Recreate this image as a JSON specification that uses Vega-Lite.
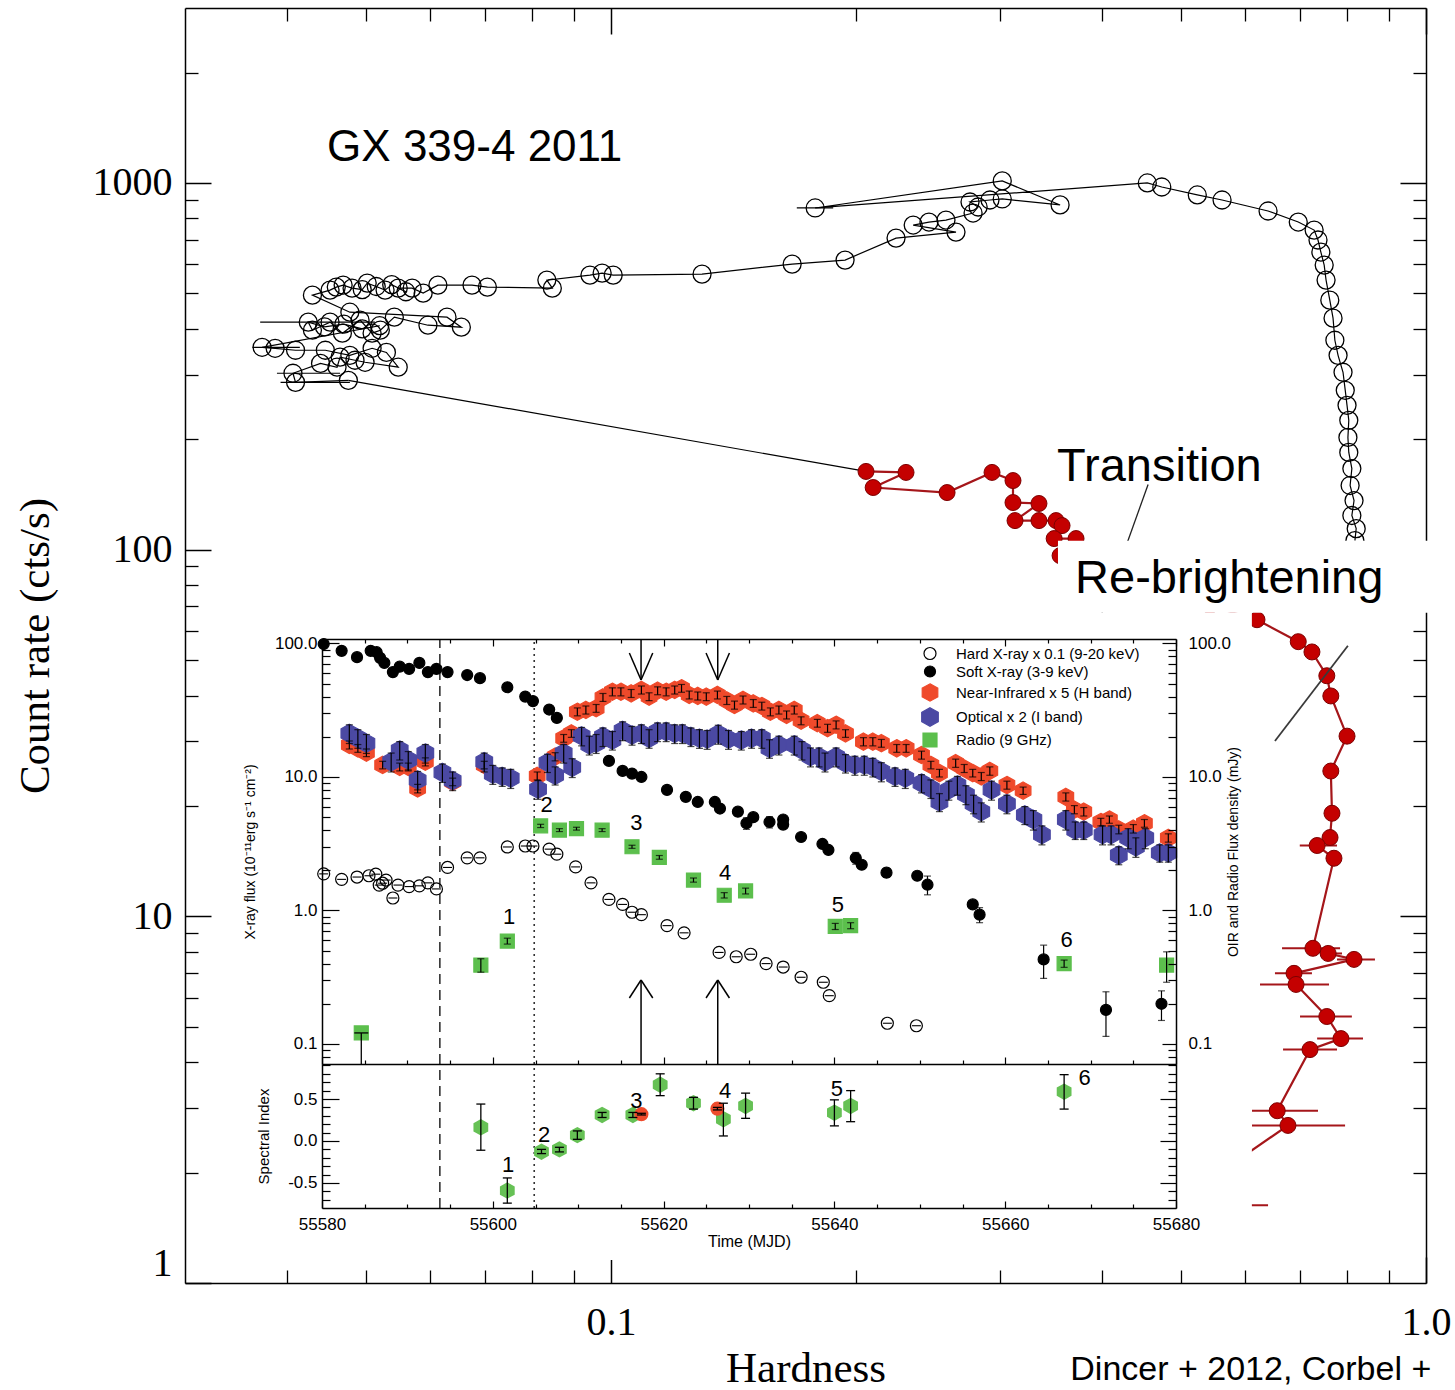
{
  "$schema": "https://vega.github.io/schema/vega-lite/v6.json",
  "width": 1241,
  "height": 1275,
  "autosize": "none",
  "padding": {"left": 185, "top": 8, "right": 29, "bottom": 107},
  "background": "white",
  "config": {
    "view": {"stroke": null},
    "axis": {"grid": false, "domainColor": "black", "tickColor": "black", "labelColor": "black", "titleColor": "black", "titleFontWeight": "normal", "labelFont": "Liberation Sans", "titleFont": "Liberation Sans", "labelOverlap": false},
    "text": {"font": "Liberation Sans", "color": "black"}
  },
  "datasets": {
    "mainBlack": [
      {"h":0.818,"c":105.8},{"h":0.821,"c":114.1},{"h":0.811,"c":123.9},{"h":0.816,"c":136.1},{"h":0.807,"c":149.6},
      {"h":0.811,"c":166.4},{"h":0.804,"c":184.1},{"h":0.802,"c":202.3},{"h":0.804,"c":225.2},{"h":0.800,"c":247.5},
      {"h":0.796,"c":271.9},{"h":0.791,"c":304.6},{"h":0.780,"c":338.8},{"h":0.773,"c":372.4},{"h":0.769,"c":427.8},
      {"h":0.762,"c":479},{"h":0.754,"c":543.3},{"h":0.750,"c":597},{"h":0.743,"c":648},{"h":0.737,"c":698.9},
      {"h":0.729,"c":743.9},{"h":0.697,"c":782.3},{"h":0.640,"c":838.6},{"h":0.562,"c":898.6},{"h":0.524,"c":927.4},
      {"h":0.474,"c":975},{"h":0.455,"c":1000},{"h":0.178,"c":854.6},{"h":0.302,"c":1012.7},{"h":0.3556,"c":871},
      {"h":0.302,"c":904.3},{"h":0.2917,"c":898.6},{"h":0.2757,"c":887.4},{"h":0.2821,"c":859.9},{"h":0.2781,"c":827.9},
      {"h":0.2576,"c":792.2},{"h":0.2455,"c":782.3},{"h":0.2348,"c":767.7},{"h":0.2650,"c":734.6},{"h":0.2237,"c":707.4},
      {"h":0.1937,"c":616.2},{"h":0.1668,"c":600.9},{"h":0.1293,"c":564.1},{"h":0.1006,"c":560.6},{"h":0.0975,"c":567.8},
      {"h":0.0942,"c":560.6},{"h":0.0834,"c":543.3},{"h":0.0847,"c":516.6},{"h":0.0705,"c":519.9},{"h":0.0675,"c":526.5},
      {"h":0.0613,"c":526.5},{"h":0.0588,"c":500.6},{"h":0.0570,"c":516.6},{"h":0.0548,"c":516.6},{"h":0.0560,"c":505},
      {"h":0.0538,"c":528},{"h":0.0528,"c":510.2},{"h":0.0515,"c":522},{"h":0.0502,"c":533.2},{"h":0.0495,"c":512},
      {"h":0.0481,"c":516.6},{"h":0.0469,"c":526.5},{"h":0.0460,"c":520},{"h":0.0452,"c":510.2},{"h":0.0430,"c":494.3},
      {"h":0.0478,"c":444.1},{"h":0.0629,"c":430.5},{"h":0.0655,"c":404.3},{"h":0.0596,"c":409.3},{"h":0.0542,"c":430.5},
      {"h":0.0521,"c":396.7},{"h":0.0509,"c":389.3},{"h":0.0492,"c":422.5},{"h":0.0468,"c":389.3},{"h":0.0452,"c":417.2},
      {"h":0.0430,"c":396.7},{"h":0.0425,"c":417.2},{"h":0.0445,"c":405},{"h":0.0470,"c":412},{"h":0.0495,"c":400},
      {"h":0.0520,"c":408},{"h":0.0373,"c":356.3},{"h":0.0387,"c":354.1},{"h":0.0410,"c":349.7},{"h":0.0446,"c":349.7},
      {"h":0.0478,"c":338.8},{"h":0.0509,"c":354.1},{"h":0.0530,"c":345},{"h":0.0548,"c":314.4},{"h":0.0499,"c":324.3},
      {"h":0.0485,"c":328.5},{"h":0.0465,"c":335},{"h":0.0461,"c":314.4},{"h":0.0440,"c":322},{"h":0.0407,"c":302.7},
      {"h":0.0410,"c":285.9},{"h":0.0476,"c":289.5}
    ],
    "mainBlackErr": [
      {"h1":0.0371,"h2":0.0513,"c":417.2},{"h1":0.0363,"h2":0.0415,"c":356.3},{"h1":0.0389,"h2":0.0465,"c":302.7},
      {"h1":0.0393,"h2":0.0478,"c":285.9},{"h1":0.169,"h2":0.1873,"c":854.6}
    ],
    "mainRed": [
      {"h":0.2055,"c":163.4},{"h":0.2301,"c":162.4},{"h":0.2097,"c":147.7},{"h":0.2584,"c":143.1},{"h":0.2934,"c":162.4},
      {"h":0.3113,"c":154.3},{"h":0.3113,"c":134.4},{"h":0.335,"c":133.6},{"h":0.3131,"c":120},{"h":0.335,"c":120},
      {"h":0.3516,"c":120},{"h":0.3576,"c":116.3},{"h":0.3497,"c":107.2},{"h":0.372,"c":107.2},{"h":0.3556,"c":96.3},
      {"h":0.387,"c":84.9},{"h":0.4585,"c":77.3},{"h":0.543,"c":70.3},{"h":0.6203,"c":64.4},{"h":0.697,"c":56.1},
      {"h":0.7245,"c":52.6},{"h":0.7556,"c":45.3},{"h":0.7642,"c":39.9},{"h":0.800,"c":31.0},{"h":0.7642,"c":24.9},
      {"h":0.7667,"c":19.1},{"h":0.7625,"c":16.4},{"h":0.7352,"c":15.6},{"h":0.771,"c":14.4},{"h":0.7265,"c":8.18},
      {"h":0.7584,"c":7.92},{"h":0.816,"c":7.63},{"h":0.6887,"c":6.99},{"h":0.6927,"c":6.52},{"h":0.7556,"c":5.33},
      {"h":0.7864,"c":4.64},{"h":0.7205,"c":4.33},{"h":0.6568,"c":2.95},{"h":0.677,"c":2.69},{"h":0.551,"c":1.96},
      {"h":0.551,"c":1.63}
    ],
    "mainRedErr": [
      {"h1":0.6658,"h2":0.7844,"c":8.18},{"h1":0.7413,"h2":0.7887,"c":7.92},{"h1":0.7777,"h2":0.8657,"c":7.63},
      {"h1":0.6526,"h2":0.7245,"c":6.99},{"h1":0.6256,"h2":0.7603,"c":6.52},{"h1":0.7005,"h2":0.811,"c":5.33},
      {"h1":0.7352,"h2":0.8369,"c":4.64},{"h1":0.6677,"h2":0.7777,"c":4.33},{"h1":0.6116,"h2":0.737,"c":2.95},
      {"h1":0.6116,"h2":0.7956,"c":2.69},{"h1":0.4717,"h2":0.640,"c":1.63},{"h1":0.70,"h2":0.7777,"c":15.6}
    ],
    "flux": [
      {"s":"hard","t":55580.2,"f":1.88},{"s":"hard","t":55582.3,"f":1.71},{"s":"hard","t":55584.1,"f":1.78},
      {"s":"hard","t":55585.5,"f":1.82},{"s":"hard","t":55586.3,"f":1.87},{"s":"hard","t":55586.7,"f":1.55},
      {"s":"hard","t":55587.1,"f":1.60},{"s":"hard","t":55587.5,"f":1.69},{"s":"hard","t":55588.3,"f":1.24},
      {"s":"hard","t":55588.9,"f":1.55},{"s":"hard","t":55590.2,"f":1.51},{"s":"hard","t":55591.4,"f":1.53},
      {"s":"hard","t":55592.4,"f":1.61},{"s":"hard","t":55593.4,"f":1.45},{"s":"hard","t":55594.7,"f":2.10},
      {"s":"hard","t":55597.0,"f":2.48},{"s":"hard","t":55598.5,"f":2.48},{"s":"hard","t":55601.7,"f":2.99},
      {"s":"hard","t":55603.8,"f":3.04},{"s":"hard","t":55604.7,"f":3.04},{"s":"hard","t":55606.6,"f":2.88},
      {"s":"hard","t":55607.5,"f":2.64},{"s":"hard","t":55609.7,"f":2.12},{"s":"hard","t":55611.5,"f":1.61},
      {"s":"hard","t":55613.6,"f":1.21},{"s":"hard","t":55615.2,"f":1.11},{"s":"hard","t":55616.3,"f":0.97},
      {"s":"hard","t":55617.4,"f":0.93},{"s":"hard","t":55620.4,"f":0.77},{"s":"hard","t":55622.4,"f":0.68},
      {"s":"hard","t":55626.5,"f":0.485},{"s":"hard","t":55628.5,"f":0.45},{"s":"hard","t":55630.2,"f":0.47},
      {"s":"hard","t":55632.0,"f":0.40},{"s":"hard","t":55634.0,"f":0.377},{"s":"hard","t":55636.1,"f":0.316},
      {"s":"hard","t":55638.7,"f":0.29},{"s":"hard","t":55639.4,"f":0.23},{"s":"hard","t":55646.2,"f":0.143},
      {"s":"hard","t":55649.6,"f":0.137},
      {"s":"soft","t":55580.2,"f":99},{"s":"soft","t":55582.3,"f":88},{"s":"soft","t":55584.1,"f":79},
      {"s":"soft","t":55585.7,"f":88},{"s":"soft","t":55586.4,"f":86},{"s":"soft","t":55586.8,"f":78},
      {"s":"soft","t":55587.3,"f":71.5},{"s":"soft","t":55588.3,"f":61},{"s":"soft","t":55589.1,"f":67},
      {"s":"soft","t":55590.2,"f":64.5},{"s":"soft","t":55591.4,"f":71.5},{"s":"soft","t":55592.4,"f":61},
      {"s":"soft","t":55593.4,"f":64.5},{"s":"soft","t":55594.7,"f":61},{"s":"soft","t":55597.0,"f":58},
      {"s":"soft","t":55598.5,"f":55},{"s":"soft","t":55601.7,"f":47},{"s":"soft","t":55603.8,"f":40},
      {"s":"soft","t":55604.7,"f":37},{"s":"soft","t":55606.6,"f":32},{"s":"soft","t":55607.5,"f":27.7},
      {"s":"soft","t":55613.6,"f":13.2},{"s":"soft","t":55615.2,"f":11.1},{"s":"soft","t":55616.3,"f":10.6},
      {"s":"soft","t":55617.4,"f":10.0},{"s":"soft","t":55620.4,"f":8.0},{"s":"soft","t":55622.6,"f":7.1},
      {"s":"soft","t":55624.0,"f":6.5},{"s":"soft","t":55626.0,"f":6.5,"e":0.3},{"s":"soft","t":55626.6,"f":5.8},
      {"s":"soft","t":55628.7,"f":5.5,"e":0.4},{"s":"soft","t":55629.7,"f":4.5,"e":0.45},{"s":"soft","t":55630.5,"f":5.0},
      {"s":"soft","t":55632.4,"f":4.6,"e":0.45},{"s":"soft","t":55634.0,"f":4.8,"e":0.3},{"s":"soft","t":55634.0,"f":4.4},
      {"s":"soft","t":55636.1,"f":3.55},{"s":"soft","t":55638.6,"f":3.15,"e":0.2},{"s":"soft","t":55639.3,"f":2.84},
      {"s":"soft","t":55642.5,"f":2.47,"e":0.25},{"s":"soft","t":55643.2,"f":2.2},{"s":"soft","t":55646.1,"f":1.92,"e":0.15},
      {"s":"soft","t":55649.7,"f":1.82},{"s":"soft","t":55650.9,"f":1.56,"e":0.25},{"s":"soft","t":55656.2,"f":1.11},
      {"s":"soft","t":55657.0,"f":0.93,"e":0.12},{"s":"soft","t":55664.5,"f":0.43,"e":0.12},
      {"s":"soft","t":55671.8,"f":0.18,"e":0.066},{"s":"soft","t":55678.3,"f":0.20,"e":0.05},
      {"s":"nir","t":55583.2,"f":17.4,"e":1.2},{"s":"nir","t":55584.2,"f":16.4,"e":1.1},{"s":"nir","t":55585.2,"f":15.2,"e":1.0},
      {"s":"nir","t":55587.1,"f":12.3,"e":0.8},{"s":"nir","t":55589.1,"f":11.9,"e":0.8},{"s":"nir","t":55590.1,"f":11.9,"e":0.8},
      {"s":"nir","t":55591.2,"f":8.2,"e":0.6},{"s":"nir","t":55592.1,"f":13.0,"e":0.9},{"s":"nir","t":55595.3,"f":9.2,"e":0.6},
      {"s":"nir","t":55599.0,"f":12.3,"e":0.8},{"s":"nir","t":55605.2,"f":10.2,"e":0.7},{"s":"nir","t":55607.3,"f":14.2,"e":1.0},
      {"s":"nir","t":55608.3,"f":19.5,"e":1.3},{"s":"nir","t":55609.2,"f":21.2,"e":1.4},{"s":"nir","t":55609.9,"f":30.8,"e":2.1},
      {"s":"nir","t":55610.9,"f":31.8,"e":2.2},{"s":"nir","t":55612.1,"f":32.7,"e":2.2},{"s":"nir","t":55612.9,"f":39.5,"e":2.7},
      {"s":"nir","t":55614.0,"f":43.5,"e":3.0},{"s":"nir","t":55615.0,"f":43.5,"e":3.0},{"s":"nir","t":55616.2,"f":42.3,"e":2.9},
      {"s":"nir","t":55617.4,"f":44.9,"e":3.1},{"s":"nir","t":55618.3,"f":40.0,"e":2.7},{"s":"nir","t":55619.3,"f":44.3,"e":3.0},
      {"s":"nir","t":55620.3,"f":43.5,"e":3.0},{"s":"nir","t":55621.3,"f":44.9,"e":3.1},{"s":"nir","t":55622.1,"f":46.2,"e":3.1},
      {"s":"nir","t":55623.0,"f":41.2,"e":2.8},{"s":"nir","t":55624.0,"f":40.5,"e":2.8},{"s":"nir","t":55625.0,"f":40.0,"e":2.7},
      {"s":"nir","t":55626.3,"f":41.2,"e":2.8},{"s":"nir","t":55627.4,"f":37.5,"e":2.6},{"s":"nir","t":55628.3,"f":34.6,"e":2.4},
      {"s":"nir","t":55629.3,"f":37.8,"e":2.6},{"s":"nir","t":55630.5,"f":35.6,"e":2.4},{"s":"nir","t":55631.5,"f":34.0,"e":2.3},
      {"s":"nir","t":55632.5,"f":30.8,"e":2.1},{"s":"nir","t":55633.5,"f":31.8,"e":2.2},{"s":"nir","t":55634.4,"f":29.2,"e":2.0},
      {"s":"nir","t":55635.3,"f":31.8,"e":2.2},{"s":"nir","t":55636.1,"f":26.4,"e":1.8},{"s":"nir","t":55638.0,"f":25.3,"e":1.7},
      {"s":"nir","t":55639.2,"f":23.2,"e":1.6},{"s":"nir","t":55640.2,"f":24.6,"e":1.7},{"s":"nir","t":55641.3,"f":21.2,"e":1.4},
      {"s":"nir","t":55643.4,"f":18.4,"e":1.3},{"s":"nir","t":55644.5,"f":18.4,"e":1.3},{"s":"nir","t":55645.5,"f":17.9,"e":1.2},
      {"s":"nir","t":55647.3,"f":16.4,"e":1.1},{"s":"nir","t":55648.4,"f":16.4,"e":1.1},{"s":"nir","t":55650.2,"f":14.6,"e":1.0},
      {"s":"nir","t":55651.3,"f":12.3,"e":0.8},{"s":"nir","t":55652.3,"f":10.7,"e":0.7},{"s":"nir","t":55654.2,"f":12.7,"e":0.9},
      {"s":"nir","t":55655.2,"f":11.6,"e":0.8},{"s":"nir","t":55656.2,"f":10.7,"e":0.7},{"s":"nir","t":55657.2,"f":10.1,"e":0.7},
      {"s":"nir","t":55658.2,"f":11.1,"e":0.8},{"s":"nir","t":55660.2,"f":8.7,"e":0.6},{"s":"nir","t":55662.1,"f":7.9,"e":0.5},
      {"s":"nir","t":55667.1,"f":7.1,"e":0.5},{"s":"nir","t":55668.1,"f":5.7,"e":0.4},{"s":"nir","t":55669.2,"f":5.5,"e":0.4},
      {"s":"nir","t":55671.2,"f":4.6,"e":0.3},{"s":"nir","t":55672.2,"f":4.8,"e":0.3},{"s":"nir","t":55673.3,"f":4.05,"e":0.3},
      {"s":"nir","t":55675.0,"f":4.1,"e":0.3},{"s":"nir","t":55676.3,"f":4.5,"e":0.3},{"s":"nir","t":55679.1,"f":3.5,"e":0.25},
      {"s":"opt","t":55583.2,"f":21.2,"e":3.4},{"s":"opt","t":55584.2,"f":19.5,"e":3.1},{"s":"opt","t":55585.2,"f":17.9,"e":2.9},
      {"s":"opt","t":55588.1,"f":13.0,"e":2.1},{"s":"opt","t":55589.1,"f":15.9,"e":2.5},{"s":"opt","t":55590.1,"f":13.4,"e":2.1},
      {"s":"opt","t":55591.2,"f":9.5,"e":1.5},{"s":"opt","t":55592.1,"f":15.1,"e":2.4},{"s":"opt","t":55594.1,"f":10.8,"e":1.7},
      {"s":"opt","t":55595.3,"f":9.4,"e":1.5},{"s":"opt","t":55599.0,"f":13.0,"e":2.1},{"s":"opt","t":55600.0,"f":10.5,"e":1.7},
      {"s":"opt","t":55601.1,"f":10.1,"e":1.6},{"s":"opt","t":55602.1,"f":9.8,"e":1.6},{"s":"opt","t":55605.3,"f":8.1,"e":1.3},
      {"s":"opt","t":55606.4,"f":12.8,"e":2.0},{"s":"opt","t":55607.3,"f":10.3,"e":1.6},{"s":"opt","t":55608.3,"f":15.1,"e":2.4},
      {"s":"opt","t":55609.3,"f":11.8,"e":1.9},{"s":"opt","t":55610.4,"f":20.3,"e":3.2},{"s":"opt","t":55611.3,"f":17.4,"e":2.8},
      {"s":"opt","t":55612.1,"f":17.9,"e":2.9},{"s":"opt","t":55612.9,"f":20.1,"e":3.2},{"s":"opt","t":55614.0,"f":18.9,"e":3.0},
      {"s":"opt","t":55615.2,"f":22.3,"e":3.6},{"s":"opt","t":55616.3,"f":20.6,"e":3.3},{"s":"opt","t":55617.4,"f":21.2,"e":3.4},
      {"s":"opt","t":55618.3,"f":19.5,"e":3.1},{"s":"opt","t":55619.3,"f":21.9,"e":3.5},{"s":"opt","t":55620.3,"f":21.9,"e":3.5},
      {"s":"opt","t":55621.3,"f":21.2,"e":3.4},{"s":"opt","t":55622.2,"f":21.2,"e":3.4},{"s":"opt","t":55623.2,"f":20.1,"e":3.2},
      {"s":"opt","t":55624.2,"f":19.5,"e":3.1},{"s":"opt","t":55625.1,"f":19.2,"e":3.1},{"s":"opt","t":55626.4,"f":21.0,"e":3.4},
      {"s":"opt","t":55627.6,"f":19.2,"e":3.1},{"s":"opt","t":55629.1,"f":18.9,"e":3.0},{"s":"opt","t":55630.3,"f":19.5,"e":3.1},
      {"s":"opt","t":55631.5,"f":19.5,"e":3.1},{"s":"opt","t":55632.4,"f":16.4,"e":2.6},{"s":"opt","t":55633.5,"f":17.4,"e":2.8},
      {"s":"opt","t":55635.3,"f":17.4,"e":2.8},{"s":"opt","t":55636.2,"f":15.9,"e":2.5},{"s":"opt","t":55637.2,"f":14.2,"e":2.3},
      {"s":"opt","t":55638.2,"f":14.2,"e":2.3},{"s":"opt","t":55638.9,"f":13.0,"e":2.1},{"s":"opt","t":55640.2,"f":14.2,"e":2.3},
      {"s":"opt","t":55641.3,"f":12.7,"e":2.0},{"s":"opt","t":55642.4,"f":12.3,"e":2.0},{"s":"opt","t":55643.5,"f":12.3,"e":2.0},
      {"s":"opt","t":55644.5,"f":11.9,"e":1.9},{"s":"opt","t":55645.5,"f":11.0,"e":1.8},{"s":"opt","t":55647.1,"f":10.1,"e":1.6},
      {"s":"opt","t":55648.3,"f":9.8,"e":1.6},{"s":"opt","t":55650.2,"f":9.0,"e":1.4},{"s":"opt","t":55651.3,"f":8.2,"e":1.3},
      {"s":"opt","t":55652.3,"f":6.5,"e":1.0},{"s":"opt","t":55653.4,"f":8.0,"e":1.3},{"s":"opt","t":55654.4,"f":8.7,"e":1.4},
      {"s":"opt","t":55655.4,"f":7.4,"e":1.2},{"s":"opt","t":55656.3,"f":6.3,"e":1.0},{"s":"opt","t":55657.2,"f":5.5,"e":0.9},
      {"s":"opt","t":55658.4,"f":8.0,"e":1.3},{"s":"opt","t":55660.2,"f":6.3,"e":1.0},{"s":"opt","t":55662.3,"f":5.2,"e":0.8},
      {"s":"opt","t":55663.3,"f":4.8,"e":0.8},{"s":"opt","t":55664.3,"f":3.7,"e":0.6},{"s":"opt","t":55667.1,"f":4.8,"e":0.8},
      {"s":"opt","t":55668.2,"f":4.0,"e":0.6},{"s":"opt","t":55669.2,"f":4.0,"e":0.6},{"s":"opt","t":55671.4,"f":3.7,"e":0.6},
      {"s":"opt","t":55672.4,"f":3.7,"e":0.6},{"s":"opt","t":55673.3,"f":2.6,"e":0.4},{"s":"opt","t":55674.4,"f":3.5,"e":0.6},
      {"s":"opt","t":55675.3,"f":3.0,"e":0.5},{"s":"opt","t":55676.4,"f":3.5,"e":0.6},{"s":"opt","t":55678.1,"f":2.7,"e":0.4},
      {"s":"opt","t":55679.1,"f":2.7,"e":0.4},
      {"s":"radio","t":55584.6,"f":0.121},{"s":"radio","t":55598.6,"f":0.39,"e":0.045},{"s":"radio","t":55601.7,"f":0.59,"e":0.03},
      {"s":"radio","t":55605.6,"f":4.3,"e":0.12},{"s":"radio","t":55607.8,"f":4.0,"e":0.1},{"s":"radio","t":55609.8,"f":4.1,"e":0.1},
      {"s":"radio","t":55612.8,"f":4.0,"e":0.1},{"s":"radio","t":55616.3,"f":3.0,"e":0.08},{"s":"radio","t":55619.5,"f":2.5,"e":0.08},
      {"s":"radio","t":55623.5,"f":1.69,"e":0.06},{"s":"radio","t":55627.1,"f":1.3,"e":0.06},{"s":"radio","t":55629.6,"f":1.4,"e":0.07},
      {"s":"radio","t":55640.1,"f":0.76,"e":0.04},{"s":"radio","t":55641.9,"f":0.77,"e":0.04},{"s":"radio","t":55666.9,"f":0.40,"e":0.025},
      {"s":"radio","t":55678.9,"f":0.39,"e":0.1}
    ],
    "spec": [
      {"k":"g","t":55598.6,"i":0.163,"lo":-0.11,"hi":0.44},{"k":"g","t":55601.7,"i":-0.59,"lo":-0.74,"hi":-0.44},
      {"k":"g","t":55605.7,"i":-0.127,"lo":-0.15,"hi":-0.10},{"k":"g","t":55607.8,"i":-0.10,"lo":-0.13,"hi":-0.075},
      {"k":"g","t":55609.9,"i":0.07,"lo":0.02,"hi":0.12},{"k":"g","t":55612.8,"i":0.31,"lo":0.28,"hi":0.34},
      {"k":"g","t":55616.4,"i":0.31,"lo":0.28,"hi":0.34},{"k":"g","t":55619.6,"i":0.67,"lo":0.54,"hi":0.80},
      {"k":"g","t":55623.5,"i":0.45,"lo":0.38,"hi":0.52},{"k":"g","t":55627.0,"i":0.26,"lo":0.06,"hi":0.45},
      {"k":"g","t":55629.6,"i":0.417,"lo":0.27,"hi":0.57},{"k":"g","t":55640.0,"i":0.337,"lo":0.18,"hi":0.49},
      {"k":"g","t":55641.9,"i":0.417,"lo":0.23,"hi":0.60},{"k":"g","t":55666.9,"i":0.587,"lo":0.38,"hi":0.79},
      {"k":"r","t":55617.4,"i":0.32,"lo":0.31,"hi":0.33},{"k":"r","t":55626.3,"i":0.385,"lo":0.37,"hi":0.40}
    ],
    "arrows": [
      {"t1":55617.36,"f1":108,"t2":55617.36,"f2":53.3},{"t1":55615.99,"f1":84.9,"t2":55617.36,"f2":53.3},
      {"t1":55618.73,"f1":84.9,"t2":55617.36,"f2":53.3},{"t1":55626.34,"f1":108,"t2":55626.34,"f2":53.3},
      {"t1":55624.97,"f1":84.9,"t2":55626.34,"f2":53.3},{"t1":55627.71,"f1":84.9,"t2":55626.34,"f2":53.3},
      {"t1":55617.36,"f1":0.0708,"t2":55617.36,"f2":0.3015},{"t1":55615.99,"f1":0.221,"t2":55617.36,"f2":0.3015},
      {"t1":55618.73,"f1":0.221,"t2":55617.36,"f2":0.3015},{"t1":55626.34,"f1":0.0708,"t2":55626.34,"f2":0.3015},
      {"t1":55624.97,"f1":0.221,"t2":55626.34,"f2":0.3015},{"t1":55627.71,"f1":0.221,"t2":55626.34,"f2":0.3015}
    ],
    "fluxLabels": [
      {"t":55601.9,"f":0.894,"n":"1"},{"t":55606.3,"f":6.17,"n":"2"},{"t":55616.8,"f":4.52,"n":"3"},
      {"t":55627.2,"f":1.91,"n":"4"},{"t":55640.4,"f":1.10,"n":"5"},{"t":55667.2,"f":0.601,"n":"6"}
    ],
    "specLabels": [
      {"t":55601.8,"i":-0.286,"n":"1"},{"t":55606.0,"i":0.071,"n":"2"},{"t":55616.8,"i":0.476,"n":"3"},
      {"t":55627.2,"i":0.595,"n":"4"},{"t":55640.3,"i":0.619,"n":"5"},{"t":55669.3,"i":0.75,"n":"6"}
    ]
  },
  "layer": [
    {
      "data": {"name": "mainBlack"},
      "mark": {"type": "line", "color": "black", "strokeWidth": 1.2},
      "encoding": {
        "x": {"field": "h", "type": "quantitative", "scale": {"type": "log", "domain": [0.03, 1], "nice": false},
          "axis": {"orient": "bottom", "values": [0.1, 1], "format": ".1f", "tickSize": -26, "tickWidth": 1.5, "domainWidth": 1.5,
            "labelFont": "Liberation Serif", "labelFontSize": 40, "labelPadding": 45, "labelFlush": false,
            "title": "Hardness", "titleFont": "Liberation Serif", "titleFontSize": 43, "titleX": 620.5, "titleY": 85,
            "titleBaseline": "middle", "titleAlign": "center", "zindex": 0}},
        "y": {"field": "c", "type": "quantitative", "scale": {"type": "log", "domain": [1, 3000], "nice": false},
          "axis": {"orient": "left", "values": [1, 10, 100, 1000], "format": "d", "tickSize": -26, "tickWidth": 1.5, "domainWidth": 1.5,
            "labelFont": "Liberation Serif", "labelFontSize": 40, "labelPadding": 39, "labelFlush": true,
            "title": "Count rate (cts/s)", "titleFont": "Liberation Serif", "titleFontSize": 43, "titleX": -150, "titleY": 637.5,
            "titleAngle": -90, "titleBaseline": "middle", "titleAlign": "center", "zindex": 0}},
        "order": {"value": null}
      }
    },
    {
      "data": {"values": [{"h": 0.0476, "c": 289.5}, {"h": 0.2055, "c": 163.4}]},
      "mark": {"type": "line", "color": "black", "strokeWidth": 1.2},
      "encoding": {
        "x": {"field": "h", "type": "quantitative", "scale": {"type": "log", "domain": [0.03, 1], "nice": false},
          "axis": {"orient": "bottom", "values": [0.04, 0.05, 0.06, 0.07, 0.08, 0.09, 0.2, 0.3, 0.4, 0.5, 0.6, 0.7, 0.8, 0.9],
            "tickSize": -13, "tickWidth": 1.3, "labels": false, "domain": false, "title": null, "zindex": 0}},
        "y": {"field": "c", "type": "quantitative", "scale": {"type": "log", "domain": [1, 3000], "nice": false},
          "axis": {"orient": "left", "values": [2, 3, 4, 5, 6, 7, 8, 9, 20, 30, 40, 50, 60, 70, 80, 90, 200, 300, 400, 500, 600, 700, 800, 900, 2000],
            "tickSize": -13, "tickWidth": 1.3, "labels": false, "domain": false, "title": null, "zindex": 0}}
      }
    },
    {
      "data": {"name": "mainBlackErr"},
      "mark": {"type": "rule", "color": "black", "strokeWidth": 1.2},
      "encoding": {
        "x": {"field": "h1", "type": "quantitative", "scale": {"type": "log", "domain": [0.03, 1], "nice": false},
          "axis": {"orient": "top", "values": [0.1, 1], "tickSize": -26, "tickWidth": 1.5, "domainWidth": 1.5, "labels": false, "title": null, "zindex": 0}},
        "x2": {"field": "h2"},
        "y": {"field": "c", "type": "quantitative", "scale": {"type": "log", "domain": [1, 3000], "nice": false},
          "axis": {"orient": "right", "values": [10, 100, 1000], "tickSize": -26, "tickWidth": 1.5, "domainWidth": 1.5, "labels": false, "title": null, "zindex": 0}}
      }
    },
    {
      "data": {"name": "mainBlack"},
      "mark": {"type": "point", "shape": "circle", "filled": false, "color": "black", "strokeWidth": 1.3, "size": 324, "opacity": 1},
      "encoding": {
        "x": {"field": "h", "type": "quantitative", "scale": {"type": "log", "domain": [0.03, 1], "nice": false},
          "axis": {"orient": "top", "values": [0.04, 0.05, 0.06, 0.07, 0.08, 0.09, 0.2, 0.3, 0.4, 0.5, 0.6, 0.7, 0.8, 0.9],
            "tickSize": -13, "tickWidth": 1.3, "labels": false, "domain": false, "title": null, "zindex": 0}},
        "y": {"field": "c", "type": "quantitative", "scale": {"type": "log", "domain": [1, 3000], "nice": false},
          "axis": {"orient": "right", "values": [2, 3, 4, 5, 6, 7, 8, 9, 20, 30, 40, 50, 60, 70, 80, 90, 200, 300, 400, 500, 600, 700, 800, 900, 2000],
            "tickSize": -13, "tickWidth": 1.3, "labels": false, "domain": false, "title": null, "zindex": 0}}
      }
    },
    {
      "data": {"name": "mainRed"},
      "mark": {"type": "line", "color": "#a5161a", "strokeWidth": 2.2},
      "encoding": {
        "x": {"field": "h", "type": "quantitative", "scale": {"type": "log", "domain": [0.03, 1], "nice": false}, "axis": null},
        "y": {"field": "c", "type": "quantitative", "scale": {"type": "log", "domain": [1, 3000], "nice": false}, "axis": null},
        "order": {"value": null}
      }
    },
    {
      "data": {"name": "mainRedErr"},
      "mark": {"type": "rule", "color": "#a5161a", "strokeWidth": 2},
      "encoding": {
        "x": {"field": "h1", "type": "quantitative", "scale": {"type": "log", "domain": [0.03, 1], "nice": false}, "axis": null},
        "x2": {"field": "h2"},
        "y": {"field": "c", "type": "quantitative", "scale": {"type": "log", "domain": [1, 3000], "nice": false}, "axis": null}
      }
    },
    {
      "data": {"name": "mainRed"},
      "mark": {"type": "point", "shape": "circle", "filled": true, "fill": "#c40000", "stroke": "#7d0000", "strokeWidth": 1, "size": 256, "opacity": 1},
      "encoding": {
        "x": {"field": "h", "type": "quantitative", "scale": {"type": "log", "domain": [0.03, 1], "nice": false}, "axis": null},
        "y": {"field": "c", "type": "quantitative", "scale": {"type": "log", "domain": [1, 3000], "nice": false}, "axis": null}
      }
    },
    {
      "data": {"values": [{"h1": 0.6526, "c1": 30.07, "h2": 0.802, "c2": 54.7}]},
      "mark": {"type": "rule", "color": "#3a3a3a", "strokeWidth": 1.8},
      "encoding": {
        "x": {"field": "h1", "type": "quantitative", "scale": {"type": "log", "domain": [0.03, 1], "nice": false}, "axis": null},
        "x2": {"field": "h2"},
        "y": {"field": "c1", "type": "quantitative", "scale": {"type": "log", "domain": [1, 3000], "nice": false}, "axis": null},
        "y2": {"field": "c2"}
      }
    },
    {
      "data": {"values": [{"h1": 0.456, "c1": 150.5, "h2": 0.398, "c2": 64.8}]},
      "mark": {"type": "rule", "color": "#222222", "strokeWidth": 1.3},
      "encoding": {
        "x": {"field": "h1", "type": "quantitative", "scale": {"type": "log", "domain": [0.03, 1], "nice": false}, "axis": null},
        "x2": {"field": "h2"},
        "y": {"field": "c1", "type": "quantitative", "scale": {"type": "log", "domain": [1, 3000], "nice": false}, "axis": null},
        "y2": {"field": "c2"}
      }
    },
    {
      "data": {"values": [{"h": 0.04482, "c": 1246, "txt": "GX 339-4 2011"}]},
      "mark": {"type": "text", "fontSize": 44, "align": "left", "baseline": "middle"},
      "encoding": {
        "x": {"field": "h", "type": "quantitative", "scale": {"type": "log", "domain": [0.03, 1], "nice": false}, "axis": null},
        "y": {"field": "c", "type": "quantitative", "scale": {"type": "log", "domain": [1, 3000], "nice": false}, "axis": null},
        "text": {"field": "txt"}
      }
    },
    {
      "data": {"values": [{"h": 0.3526, "c": 167.5, "txt": "Transition"}]},
      "mark": {"type": "text", "fontSize": 47, "align": "left", "baseline": "middle"},
      "encoding": {
        "x": {"field": "h", "type": "quantitative", "scale": {"type": "log", "domain": [0.03, 1], "nice": false}, "axis": null},
        "y": {"field": "c", "type": "quantitative", "scale": {"type": "log", "domain": [1, 3000], "nice": false}, "axis": null},
        "text": {"field": "txt"}
      }
    },
    {
      "data": {"values": [{"h": 0.366, "c": 0.578, "txt": "Dincer + 2012, Corbel +"}]},
      "mark": {"type": "text", "fontSize": 34, "align": "left", "baseline": "middle"},
      "encoding": {
        "x": {"field": "h", "type": "quantitative", "scale": {"type": "log", "domain": [0.03, 1], "nice": false}, "axis": null},
        "y": {"field": "c", "type": "quantitative", "scale": {"type": "log", "domain": [1, 3000], "nice": false}, "axis": null},
        "text": {"field": "txt"}
      }
    },
    {
      "data": {"values": [{"h1": 0.0351, "h2": 0.6114, "c1": 1.156, "c2": 67.3}]},
      "mark": {"type": "rect", "fill": "white"},
      "encoding": {
        "x": {"field": "h1", "type": "quantitative", "scale": {"type": "log", "domain": [0.03, 1], "nice": false}, "axis": null},
        "x2": {"field": "h2"},
        "y": {"field": "c1", "type": "quantitative", "scale": {"type": "log", "domain": [1, 3000], "nice": false}, "axis": null},
        "y2": {"field": "c2"}
      }
    },
    {
      "data": {"values": [{"h1": 0.3535, "h2": 1.09, "c1": 67.3, "c2": 105.8}]},
      "mark": {"type": "rect", "fill": "white"},
      "encoding": {
        "x": {"field": "h1", "type": "quantitative", "scale": {"type": "log", "domain": [0.03, 1], "nice": false}, "axis": null},
        "x2": {"field": "h2"},
        "y": {"field": "c1", "type": "quantitative", "scale": {"type": "log", "domain": [1, 3000], "nice": false}, "axis": null},
        "y2": {"field": "c2"}
      }
    },
    {
      "data": {"values": [{"h": 0.371, "c": 83.3, "txt": "Re-brightening"}]},
      "mark": {"type": "text", "fontSize": 47, "align": "left", "baseline": "middle"},
      "encoding": {
        "x": {"field": "h", "type": "quantitative", "scale": {"type": "log", "domain": [0.03, 1], "nice": false}, "axis": null},
        "y": {"field": "c", "type": "quantitative", "scale": {"type": "log", "domain": [1, 3000], "nice": false}, "axis": null},
        "text": {"field": "txt"}
      }
    },
    {
      "data": {"values": [{"t": 55593.8}]},
      "mark": {"type": "rule", "color": "#333333", "strokeWidth": 1.6, "strokeDash": [10, 6]},
      "encoding": {
        "x": {"field": "t", "type": "quantitative", "scale": {"domain": [55580, 55680], "range": [137, 991], "nice": false, "zero": false}, "axis": null},
        "y": {"datum": 0.0708, "type": "quantitative", "scale": {"type": "log", "domain": [0.0708, 108], "range": [1056, 631], "nice": false}, "axis": null},
        "y2": {"datum": 108}
      }
    },
    {
      "data": {"values": [{"t": 55604.85}]},
      "mark": {"type": "rule", "color": "#333333", "strokeWidth": 1.6, "strokeDash": [2, 4]},
      "encoding": {
        "x": {"field": "t", "type": "quantitative", "scale": {"domain": [55580, 55680], "range": [137, 991], "nice": false, "zero": false}, "axis": null},
        "y": {"datum": 0.0708, "type": "quantitative", "scale": {"type": "log", "domain": [0.0708, 108], "range": [1056, 631], "nice": false}, "axis": null},
        "y2": {"datum": 108}
      }
    },
    {
      "data": {"values": [{"t": 55593.8}]},
      "mark": {"type": "rule", "color": "#333333", "strokeWidth": 1.6, "strokeDash": [10, 6]},
      "encoding": {
        "x": {"field": "t", "type": "quantitative", "scale": {"domain": [55580, 55680], "range": [137, 991], "nice": false, "zero": false}, "axis": null},
        "y": {"datum": -0.798, "type": "quantitative", "scale": {"domain": [-0.798, 0.917], "range": [1200, 1056], "nice": false, "zero": false}, "axis": null},
        "y2": {"datum": 0.917}
      }
    },
    {
      "data": {"values": [{"t": 55604.85}]},
      "mark": {"type": "rule", "color": "#333333", "strokeWidth": 1.6, "strokeDash": [2, 4]},
      "encoding": {
        "x": {"field": "t", "type": "quantitative", "scale": {"domain": [55580, 55680], "range": [137, 991], "nice": false, "zero": false}, "axis": null},
        "y": {"datum": -0.798, "type": "quantitative", "scale": {"domain": [-0.798, 0.917], "range": [1200, 1056], "nice": false, "zero": false}, "axis": null},
        "y2": {"datum": 0.917}
      }
    },
    {
      "data": {"name": "arrows"},
      "mark": {"type": "rule", "color": "black", "strokeWidth": 1.5},
      "encoding": {
        "x": {"field": "t1", "type": "quantitative", "scale": {"domain": [55580, 55680], "range": [137, 991], "nice": false, "zero": false}, "axis": null},
        "x2": {"field": "t2"},
        "y": {"field": "f1", "type": "quantitative", "scale": {"type": "log", "domain": [0.0708, 108], "range": [1056, 631], "nice": false}, "axis": null},
        "y2": {"field": "f2"}
      }
    },
    {
      "data": {"name": "flux"},
      "mark": {"type": "point", "filled": true, "opacity": 1, "strokeWidth": 1.2},
      "encoding": {
        "x": {"field": "t", "type": "quantitative", "scale": {"domain": [55580, 55680], "range": [137, 991], "nice": false, "zero": false},
          "axis": {"orient": "top", "offset": -631, "values": [55580, 55600, 55620, 55640, 55660, 55680], "tickSize": -7, "tickWidth": 1.2,
            "domainWidth": 1.5, "labels": false, "title": null, "zindex": 1}},
        "y": {"field": "f", "type": "quantitative", "scale": {"type": "log", "domain": [0.0708, 108], "range": [1056, 631], "nice": false},
          "axis": {"orient": "left", "offset": -137, "values": [0.1, 1, 10, 100], "format": ".1f", "tickSize": -17, "tickWidth": 1.2,
            "domainWidth": 1.5, "labelFontSize": 17, "labelPadding": 22, "labelFlush": false,
            "title": "X-ray flux (10⁻¹¹erg s⁻¹ cm⁻²)", "titleFontSize": 14, "titleX": -72, "titleY": 843.5,
            "titleAngle": -90, "titleBaseline": "middle", "titleAlign": "center", "zindex": 1}},
        "fill": {"field": "s", "type": "nominal",
          "scale": {"domain": ["hard", "soft", "nir", "opt", "radio"], "range": ["transparent", "black", "#ef4a2b", "#4b49a3", "#5cbf4d"]},
          "legend": {"title": null, "orient": "none", "legendX": 735, "legendY": 638, "padding": 0, "rowPadding": 1, "labelOffset": 16, "labelLimit": 400,
            "labelFont": "Liberation Sans", "labelFontSize": 15, "labelColor": "black", "symbolStrokeWidth": 1.2,
            "labelExpr": "datum.label == 'hard' ? 'Hard X-ray  x 0.1 (9-20 keV)' : datum.label == 'soft' ? 'Soft X-ray (3-9 keV)' : datum.label == 'nir' ? 'Near-Infrared x 5 (H band)' : datum.label == 'opt' ? 'Optical x 2 (I band)' : 'Radio (9 GHz)'"}},
        "stroke": {"field": "s", "type": "nominal",
          "scale": {"domain": ["hard", "soft", "nir", "opt", "radio"], "range": ["black", "black", "#ef4a2b", "#4b49a3", "#5cbf4d"]},
          "legend": {"title": null, "orient": "none", "legendX": 735, "legendY": 638, "padding": 0, "rowPadding": 1, "labelOffset": 16, "labelLimit": 400,
            "labelFont": "Liberation Sans", "labelFontSize": 15, "labelColor": "black", "symbolStrokeWidth": 1.2,
            "labelExpr": "datum.label == 'hard' ? 'Hard X-ray  x 0.1 (9-20 keV)' : datum.label == 'soft' ? 'Soft X-ray (3-9 keV)' : datum.label == 'nir' ? 'Near-Infrared x 5 (H band)' : datum.label == 'opt' ? 'Optical x 2 (I band)' : 'Radio (9 GHz)'"}},
        "shape": {"field": "s", "type": "nominal",
          "scale": {"domain": ["hard", "soft", "nir", "opt", "radio"], "range": ["circle", "circle", "M0,-1L0.9,-0.5L0.9,0.5L0,1L-0.9,0.5L-0.9,-0.5Z", "M0,-1L0.9,-0.5L0.9,0.5L0,1L-0.9,0.5L-0.9,-0.5Z", "square"]},
          "legend": {"title": null, "orient": "none", "legendX": 735, "legendY": 638, "padding": 0, "rowPadding": 1, "labelOffset": 16, "labelLimit": 400,
            "labelFont": "Liberation Sans", "labelFontSize": 15, "labelColor": "black", "symbolStrokeWidth": 1.2,
            "labelExpr": "datum.label == 'hard' ? 'Hard X-ray  x 0.1 (9-20 keV)' : datum.label == 'soft' ? 'Soft X-ray (3-9 keV)' : datum.label == 'nir' ? 'Near-Infrared x 5 (H band)' : datum.label == 'opt' ? 'Optical x 2 (I band)' : 'Radio (9 GHz)'"}},
        "size": {"field": "s", "type": "nominal",
          "scale": {"type": "ordinal", "domain": ["hard", "soft", "nir", "opt", "radio"], "range": [144, 121, 300, 340, 196]},
          "legend": {"title": null, "orient": "none", "legendX": 735, "legendY": 638, "padding": 0, "rowPadding": 1, "labelOffset": 16, "labelLimit": 400,
            "labelFont": "Liberation Sans", "labelFontSize": 15, "labelColor": "black", "symbolStrokeWidth": 1.2,
            "labelExpr": "datum.label == 'hard' ? 'Hard X-ray  x 0.1 (9-20 keV)' : datum.label == 'soft' ? 'Soft X-ray (3-9 keV)' : datum.label == 'nir' ? 'Near-Infrared x 5 (H band)' : datum.label == 'opt' ? 'Optical x 2 (I band)' : 'Radio (9 GHz)'"}}
      }
    },
    {
      "data": {"name": "flux"},
      "transform": [{"filter": "datum.s == 'hard'"}],
      "mark": {"type": "tick", "orient": "horizontal", "size": 9, "thickness": 1.1, "color": "black", "opacity": 1},
      "encoding": {
        "x": {"field": "t", "type": "quantitative", "scale": {"domain": [55580, 55680], "range": [137, 991], "nice": false, "zero": false},
          "axis": {"orient": "top", "offset": -631, "values": [55585, 55590, 55595, 55605, 55610, 55615, 55625, 55630, 55635, 55645, 55650, 55655, 55665, 55670, 55675],
            "tickSize": -4, "tickWidth": 1.2, "labels": false, "domain": false, "title": null, "zindex": 1}},
        "y": {"field": "f", "type": "quantitative", "scale": {"type": "log", "domain": [0.0708, 108], "range": [1056, 631], "nice": false},
          "axis": {"orient": "left", "offset": -137, "values": [0.08, 0.09, 0.2, 0.3, 0.4, 0.5, 0.6, 0.7, 0.8, 0.9, 2, 3, 4, 5, 6, 7, 8, 9, 20, 30, 40, 50, 60, 70, 80, 90],
            "tickSize": -8, "tickWidth": 1.2, "labels": false, "domain": false, "title": null, "zindex": 1}}
      }
    },
    {
      "data": {"name": "flux"},
      "transform": [{"filter": "isValid(datum.e)"}],
      "mark": {"type": "errorbar", "ticks": {"size": 7, "thickness": 1.2, "color": "black"}, "rule": {"strokeWidth": 1.2, "color": "black"}},
      "encoding": {
        "x": {"field": "t", "type": "quantitative", "scale": {"domain": [55580, 55680], "range": [137, 991], "nice": false, "zero": false}, "axis": null},
        "y": {"field": "f", "type": "quantitative", "scale": {"type": "log", "domain": [0.0708, 108], "range": [1056, 631], "nice": false}, "axis": null},
        "yError": {"field": "e"}
      }
    },
    {
      "data": {"values": [{"t": 55584.6, "f": 0.121}]},
      "mark": {"type": "rule", "color": "black", "strokeWidth": 1.3},
      "encoding": {
        "x": {"field": "t", "type": "quantitative", "scale": {"domain": [55580, 55680], "range": [137, 991], "nice": false, "zero": false},
          "axis": {"orient": "bottom", "offset": -219, "values": [55580, 55600, 55620, 55640, 55660, 55680], "tickSize": -7, "tickWidth": 1.2,
            "domainWidth": 1.5, "labels": false, "title": null, "zindex": 1}},
        "y": {"field": "f", "type": "quantitative", "scale": {"type": "log", "domain": [0.0708, 108], "range": [1056, 631], "nice": false},
          "axis": {"orient": "right", "offset": -250, "values": [0.1, 1, 10, 100], "format": ".1f", "tickSize": -14, "tickWidth": 1.2,
            "domainWidth": 1.5, "labelFontSize": 17, "labelPadding": 26, "labelFlush": false,
            "title": "OIR and Radio Flux density (mJy)", "titleFontSize": 14, "titleX": 57, "titleY": 843.5,
            "titleAngle": -90, "titleBaseline": "middle", "titleAlign": "center", "zindex": 1}},
        "y2": {"datum": 0.0708}
      }
    },
    {
      "data": {"values": [{"t": 55584.6, "f": 0.121}]},
      "mark": {"type": "tick", "orient": "horizontal", "size": 14, "thickness": 1.3, "color": "black", "opacity": 1},
      "encoding": {
        "x": {"field": "t", "type": "quantitative", "scale": {"domain": [55580, 55680], "range": [137, 991], "nice": false, "zero": false},
          "axis": {"orient": "bottom", "offset": -219, "values": [55585, 55590, 55595, 55605, 55610, 55615, 55625, 55630, 55635, 55645, 55650, 55655, 55665, 55670, 55675],
            "tickSize": -4, "tickWidth": 1.2, "labels": false, "domain": false, "title": null, "zindex": 1}},
        "y": {"field": "f", "type": "quantitative", "scale": {"type": "log", "domain": [0.0708, 108], "range": [1056, 631], "nice": false},
          "axis": {"orient": "right", "offset": -250, "values": [0.08, 0.09, 0.2, 0.3, 0.4, 0.5, 0.6, 0.7, 0.8, 0.9, 2, 3, 4, 5, 6, 7, 8, 9, 20, 30, 40, 50, 60, 70, 80, 90],
            "tickSize": -8, "tickWidth": 1.2, "labels": false, "domain": false, "title": null, "zindex": 1}}
      }
    },
    {
      "data": {"name": "fluxLabels"},
      "mark": {"type": "text", "fontSize": 22, "align": "center", "baseline": "middle"},
      "encoding": {
        "x": {"field": "t", "type": "quantitative", "scale": {"domain": [55580, 55680], "range": [137, 991], "nice": false, "zero": false}, "axis": null},
        "y": {"field": "f", "type": "quantitative", "scale": {"type": "log", "domain": [0.0708, 108], "range": [1056, 631], "nice": false}, "axis": null},
        "text": {"field": "n"}
      }
    },
    {
      "data": {"name": "spec"},
      "transform": [{"filter": "datum.k == 'g'"}],
      "mark": {"type": "point", "shape": "M0,-1L0.9,-0.5L0.9,0.5L0,1L-0.9,0.5L-0.9,-0.5Z", "filled": true, "color": "#66c155", "size": 270, "opacity": 1},
      "encoding": {
        "x": {"field": "t", "type": "quantitative", "scale": {"domain": [55580, 55680], "range": [137, 991], "nice": false, "zero": false},
          "axis": {"orient": "bottom", "offset": -75, "values": [55580, 55600, 55620, 55640, 55660, 55680], "format": "d", "tickSize": -7, "tickWidth": 1.2,
            "domainWidth": 1.5, "labelFontSize": 17, "labelPadding": 15, "labelFlush": false,
            "title": "Time (MJD)", "titleFontSize": 16, "titleX": 564, "titleY": 33, "titleBaseline": "middle", "titleAlign": "center", "zindex": 1}},
        "y": {"field": "i", "type": "quantitative", "scale": {"domain": [-0.798, 0.917], "range": [1200, 1056], "nice": false, "zero": false},
          "axis": {"orient": "left", "offset": -137, "values": [-0.5, 0, 0.5], "tickSize": -17, "tickWidth": 1.2, "domainWidth": 1.5,
            "labelExpr": "datum.value < 0 ? '-' + format(-datum.value, '.1f') : format(datum.value, '.1f')",
            "labelFontSize": 17, "labelPadding": 22, "labelFlush": false,
            "title": "Spectral Index", "titleFontSize": 15, "titleX": -59, "titleY": 1128,
            "titleAngle": -90, "titleBaseline": "middle", "titleAlign": "center", "zindex": 1}}
      }
    },
    {
      "data": {"name": "spec"},
      "transform": [{"filter": "datum.k == 'r'"}],
      "mark": {"type": "point", "shape": "circle", "filled": true, "color": "#ef4b2c", "size": 200, "opacity": 1},
      "encoding": {
        "x": {"field": "t", "type": "quantitative", "scale": {"domain": [55580, 55680], "range": [137, 991], "nice": false, "zero": false},
          "axis": {"orient": "bottom", "offset": -75, "values": [55585, 55590, 55595, 55605, 55610, 55615, 55625, 55630, 55635, 55645, 55650, 55655, 55665, 55670, 55675],
            "tickSize": -4, "tickWidth": 1.2, "labels": false, "domain": false, "title": null, "zindex": 1}},
        "y": {"field": "i", "type": "quantitative", "scale": {"domain": [-0.798, 0.917], "range": [1200, 1056], "nice": false, "zero": false},
          "axis": {"orient": "left", "offset": -137, "values": [-0.7, -0.6, -0.4, -0.3, -0.2, -0.1, 0.1, 0.2, 0.3, 0.4, 0.6, 0.7, 0.8, 0.9],
            "tickSize": -8, "tickWidth": 1.2, "labels": false, "domain": false, "title": null, "zindex": 1}}
      }
    },
    {
      "data": {"name": "spec"},
      "mark": {"type": "rule", "color": "black", "strokeWidth": 1.3},
      "encoding": {
        "x": {"field": "t", "type": "quantitative", "scale": {"domain": [55580, 55680], "range": [137, 991], "nice": false, "zero": false}, "axis": null},
        "y": {"field": "lo", "type": "quantitative", "scale": {"domain": [-0.798, 0.917], "range": [1200, 1056], "nice": false, "zero": false},
          "axis": {"orient": "right", "offset": -250, "values": [-0.5, 0, 0.5], "tickSize": -16, "tickWidth": 1.2, "domainWidth": 1.5,
            "labels": false, "title": null, "zindex": 1}},
        "y2": {"field": "hi"}
      }
    },
    {
      "data": {"name": "spec"},
      "mark": {"type": "tick", "orient": "horizontal", "size": 9, "thickness": 1.3, "color": "black", "opacity": 1},
      "encoding": {
        "x": {"field": "t", "type": "quantitative", "scale": {"domain": [55580, 55680], "range": [137, 991], "nice": false, "zero": false}, "axis": null},
        "y": {"field": "lo", "type": "quantitative", "scale": {"domain": [-0.798, 0.917], "range": [1200, 1056], "nice": false, "zero": false},
          "axis": {"orient": "right", "offset": -250, "values": [-0.7, -0.6, -0.4, -0.3, -0.2, -0.1, 0.1, 0.2, 0.3, 0.4, 0.6, 0.7, 0.8, 0.9],
            "tickSize": -8, "tickWidth": 1.2, "labels": false, "domain": false, "title": null, "zindex": 1}}
      }
    },
    {
      "data": {"name": "spec"},
      "mark": {"type": "tick", "orient": "horizontal", "size": 9, "thickness": 1.3, "color": "black", "opacity": 1},
      "encoding": {
        "x": {"field": "t", "type": "quantitative", "scale": {"domain": [55580, 55680], "range": [137, 991], "nice": false, "zero": false}, "axis": null},
        "y": {"field": "hi", "type": "quantitative", "scale": {"domain": [-0.798, 0.917], "range": [1200, 1056], "nice": false, "zero": false}, "axis": null}
      }
    },
    {
      "data": {"name": "specLabels"},
      "mark": {"type": "text", "fontSize": 22, "align": "center", "baseline": "middle"},
      "encoding": {
        "x": {"field": "t", "type": "quantitative", "scale": {"domain": [55580, 55680], "range": [137, 991], "nice": false, "zero": false}, "axis": null},
        "y": {"field": "i", "type": "quantitative", "scale": {"domain": [-0.798, 0.917], "range": [1200, 1056], "nice": false, "zero": false}, "axis": null},
        "text": {"field": "n"}
      }
    }
  ],
  "resolve": {"scale": {"x": "independent", "y": "independent"}, "axis": {"x": "independent", "y": "independent"}}
}
